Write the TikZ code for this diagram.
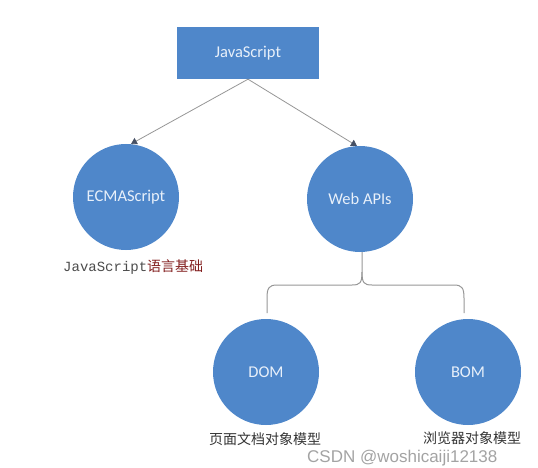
\documentclass[tikz,border=0pt]{standalone}
\usepackage{fontspec}
\setmainfont{Carlito}
\newfontfamily\cjk{Noto Sans CJK SC}
\newfontfamily\monof{Liberation Mono}
\newfontfamily\wmfont{Liberation Sans}
\usetikzlibrary{arrows.meta}
\definecolor{nodeblue}{RGB}{79,135,202}
\definecolor{nodetext}{RGB}{232,240,250}
\definecolor{linegray}{RGB}{150,150,150}
\definecolor{tipgray}{RGB}{70,80,100}
\definecolor{labred}{RGB}{130,30,30}
\tikzset{
  boxnode/.style={fill=nodeblue, draw=none, minimum width=142pt, minimum height=52pt, inner sep=0pt, text=nodetext, font=\fontsize{16.5}{18}\selectfont},
  circnode/.style={circle, fill=nodeblue, draw=none, minimum size=106pt, inner sep=0pt, text=nodetext, font=\fontsize{16.5}{18}\selectfont},
  arrowline/.style={draw=linegray, line width=0.8pt, -{Triangle[width=7pt,length=6pt,color=tipgray]}},
  braceline/.style={draw=linegray, line width=1pt},
  cnlabel/.style={text=black!80, font=\cjk\fontsize{14}{16}\selectfont, inner sep=0pt},
}
\begin{document}
\begin{tikzpicture}[x=1pt,y=-1pt]
\useasboundingbox (0,0) rectangle (538,468);
\node[boxnode] (js) at (248,53) {JavaScript};
\node[circnode] (ecma) at (126,197) {ECMAScript};
\node[circnode] (web) at (360,199) {Web APIs};
\node[circnode] (dom) at (266,372) {DOM};
\node[circnode] (bom) at (468,372) {BOM};
\draw[arrowline] (js.south) -- (131,144);
\draw[arrowline] (js.south) -- (357,146);
\coordinate (bj) at (362,272);
\coordinate (ld) at (267,313);
\coordinate (rd) at (464,313);
\draw[braceline] (web.south -| bj) -- (bj) .. controls (362,283) and (360,285) .. (352,285) -- (277,285) .. controls (269,285) and (267,288) .. (267,298) -- (ld);
\draw[braceline] (bj) .. controls (362,283) and (364,285) .. (372,285) -- (454,285) .. controls (462,285) and (464,288) .. (464,298) -- (rd);
\node[inner sep=0pt, anchor=west] (ecmalab) at (63,267) {\monof\fontsize{14}{16}\selectfont\textcolor{black!70}{JavaScript}\cjk\textcolor{labred}{语言基础}};
\node[cnlabel, anchor=west] (domlab) at (209,439) {页面文档对象模型};
\node[cnlabel, anchor=west] (bomlab) at (423,438) {浏览器对象模型};
\node[inner sep=0pt, anchor=west, text=black!45, opacity=0.8, font=\wmfont\fontsize{17}{19}\selectfont] (wm) at (307,458) {CSDN @woshicaiji12138};
\end{tikzpicture}
\end{document}
